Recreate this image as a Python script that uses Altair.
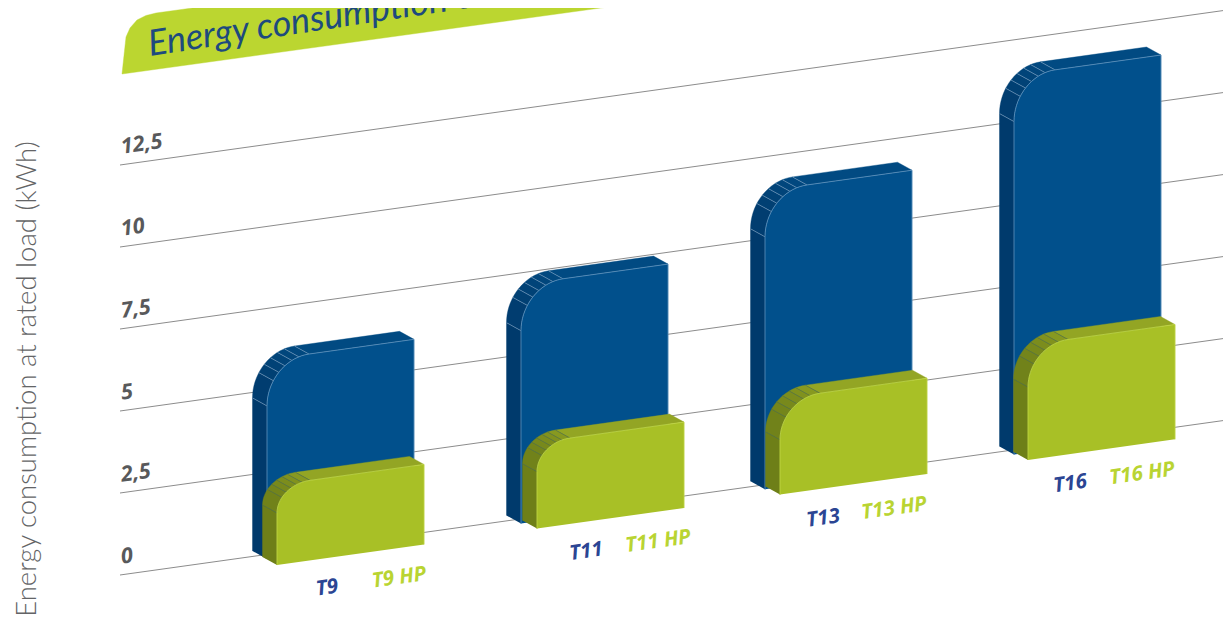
import math
import altair as alt
import pandas as pd

# ---- chart content -------------------------------------------------------
CATEGORIES = ["T9", "T11", "T13", "T16"]
STANDARD_KWH = [6.07, 7.28, 9.1, 11.55]
HP_KWH = [2.44, 2.62, 2.92, 3.5]
GRID_VALUES = [0, 2.5, 5, 7.5, 10, 12.5]
GRID_LABELS = ["0", "2,5", "5", "7,5", "10", "12,5"]
Y_TITLE = "Energy consumption at rated load (kWh)"
BANNER_TITLE = "Energy consumption comparison"

# ---- layout (pixels of the 1231x617 frame) -------------------------------
W, H = 1223, 617   # the page leaves 1215 px of width for the drawing
PX = 32.8          # pixels per kWh
SLOPE = 0.14       # shear of the floor
X0, Y0 = 120, 575  # left end of the zero line
BLUE_X = [267, 521, 765, 1014]
GREEN_X = [277, 537, 780, 1028]
BLUE_R = [(42, 46), (42, 46), (42, 46), (41, 46)]
GREEN_R = [(33, 28), (33, 29), (40, 41), (40, 42)]
FACE_W = 147
DEPTH = (14.5, 8)
BLUE_DROP, GREEN_DROP = 4.6, 12
LABEL_DX = [(51, 123), (50, 122), (44, 115), (43, 115)]


def chart_y(ref_y):
    """Frame pixel height to sheared kWh-axis units."""
    return (Y0 - ref_y) / PX


def floor(x):
    return Y0 - SLOPE * (x - X0)


def pt(x, ref_y):
    return {"x": x, "y": chart_y(ref_y)}


def face_point(x, h, drop, back=False):
    """Point x on the front plane, h px above the base of the bar."""
    y = floor(x) + drop - h
    if back:
        return x - DEPTH[0], y - DEPTH[1]
    return x, y


def curve(x0, rx, ry, hgt, drop, angles, back=False):
    out = []
    for a in angles:
        r = math.radians(a)
        x = x0 + rx * (1 - math.cos(r))
        h = hgt - ry * (1 - math.sin(r))
        out.append(face_point(x, h, drop, back))
    return out


ARC = list(range(0, 91, 5))
RIBS = [0, 32, 44, 55, 66, 76, 90]


def poly(points, name):
    return [dict(pt(x, y), poly=name, i=i) for i, (x, y) in enumerate(points)]


def bar_parts(key, x0, kwh, r, drop):
    rx, ry = r
    hgt = kwh * PX
    x1 = x0 + FACE_W
    P = lambda x, h, b=False: face_point(x, h, drop, b)
    front_arc = curve(x0, rx, ry, hgt, drop, ARC)
    back_arc = curve(x0, rx, ry, hgt, drop, ARC, True)
    parts = {}
    parts["side"] = poly([P(x0, 0), P(x0, hgt - ry), P(x0, hgt - ry, True), P(x0, 0, True)], key + "s")
    parts["top"] = poly([front_arc[-1], P(x1, hgt), P(x1, hgt, True), back_arc[-1]], key + "t")
    strips = []
    for k in range(len(RIBS) - 1):
        sub = [RIBS[k]] + [a for a in ARC if RIBS[k] < a < RIBS[k + 1]] + [RIBS[k + 1]]
        ring = curve(x0, rx, ry, hgt, drop, sub) + curve(x0, rx, ry, hgt, drop, sub[::-1], True)
        strips.append(poly(ring, f"{key}c{k}"))
    parts["strips"] = strips
    parts["front"] = poly([P(x0, 0)] + front_arc + [P(x1, hgt), P(x1, 0)], key + "f")
    parts["seam"] = poly([P(x0, 0)] + front_arc + [P(x1, hgt), P(x1, 0)], key + "e")
    ribs = []
    for k, a in enumerate(RIBS):
        ribs += poly(curve(x0, rx, ry, hgt, drop, [a]) + curve(x0, rx, ry, hgt, drop, [a], True), f"{key}r{k}")
    parts["ribs"] = ribs
    return parts


X_SCALE = alt.Scale(domain=[8, W], range=[0, W - 8], nice=False, zero=False)
Y_SCALE = alt.Scale(domain=[chart_y(H), chart_y(8)], range=[H - 8, 0], nice=False, zero=False)
X = alt.X("x:Q", scale=X_SCALE, axis=None)
Y = alt.Y("y:Q", scale=Y_SCALE, axis=None)


def filled(rows, color):
    return alt.Chart(pd.DataFrame(rows)).mark_line(
        fill=color, stroke=color, strokeWidth=0.4, interpolate="linear"
    ).encode(x=X, y=Y, detail="poly:N", order=alt.Order("i:Q"))


def stroked(rows, color, width):
    return alt.Chart(pd.DataFrame(rows)).mark_line(
        stroke=color, strokeWidth=width, interpolate="linear"
    ).encode(x=X, y=Y, detail="poly:N", order=alt.Order("i:Q"))


def series_layers(xs, values, radii, drop, cols, keyp):
    parts = [bar_parts(f"{keyp}{n}", x, v, r, drop) for n, x, v, r in zip(CATEGORIES, xs, values, radii)]
    layers = [filled(sum((p["side"] for p in parts), []), cols["side"]),
              filled(sum((p["top"] for p in parts), []), cols["top"])]
    for k in range(len(RIBS) - 1):
        rows = sum((p["strips"][k] for p in parts), [])
        layers.append(filled(rows, cols["arc"][k]))
    layers.append(stroked(sum((p["ribs"] for p in parts), []), cols["rib"], 0.6))
    layers.append(filled(sum((p["front"] for p in parts), []), cols["front"]))
    layers.append(stroked(sum((p["seam"] for p in parts), []), cols["seam"], 0.7))
    return layers


BLUE = dict(side="#003A6C", top="#014A82", front="#01508C", rib="#7FA3C4", seam="#6F9CC4",
            arc=["#013D70", "#014073", "#014276", "#014479", "#01467C", "#01487F"])
GREEN = dict(side="#6E7F18", top="#93A524", front="#A8C026", rib="#55704A", seam="#C4D84A",
             arc=["#71821A", "#74851B", "#78891C", "#7C8D1D", "#81921E", "#879920"])

# grid
grid_rows = []
for v in GRID_VALUES:
    for gx in (X0, W):
        grid_rows.append(dict(poly=str(v), x=gx, y=v + SLOPE * (gx - X0) / PX, i=gx))
grid = alt.Chart(pd.DataFrame(grid_rows)).mark_line(stroke="#8C8C8C", strokeWidth=1).encode(
    x=X, y=Y, detail="poly:N", order=alt.Order("i:Q"))

# tick labels
tick_x = 122
tick_rows = [dict(x=tick_x, y=v + SLOPE * (tick_x - X0) / PX + 11 / PX, t=t)
             for v, t in zip(GRID_VALUES, GRID_LABELS)]
ticks = alt.Chart(pd.DataFrame(tick_rows)).mark_text(
    align="left", baseline="alphabetic", angle=352, font="Open Sans", fontSize=21.5,
    fontStyle="italic", fontWeight="bold", color="#58595B"
).encode(x=X, y=Y, text="t:N")

# category labels
label_rows_a, label_rows_b = [], []
for n, gx, (da, db) in zip(CATEGORIES, GREEN_X, LABEL_DX):
    for rows, d, t in ((label_rows_a, da, n), (label_rows_b, db, n + " HP")):
        lx = gx + d
        rows.append(dict(x=lx, y=chart_y(floor(lx) + GREEN_DROP + 36), t=t))
lab_style = dict(align="center", baseline="alphabetic", angle=352, font="Open Sans", fontSize=20.5,
                 fontStyle="italic", fontWeight="bold")
labels_a = alt.Chart(pd.DataFrame(label_rows_a)).mark_text(color="#2B4593", **lab_style).encode(x=X, y=Y, text="t:N")
labels_b = alt.Chart(pd.DataFrame(label_rows_b)).mark_text(color="#B9D432", **lab_style).encode(x=X, y=Y, text="t:N")

# banner
banner_pts = [(122, 74), (123.5, 60), (126, 37), (130, 28), (137, 20), (146, 15.5), (156, 13),
              (760, -70), (760, -14), (122, 74)]
banner = filled(poly(banner_pts, "banner"), "#BBD630")
banner_text = alt.Chart(pd.DataFrame([dict(pt(150, 56), t=BANNER_TITLE)])).mark_text(
    align="left", baseline="alphabetic", angle=351.4, font="Lato", fontSize=36, fontStyle="italic",
    color="#1D4A7E").encode(x=X, y=Y, text="t:N")

y_title = alt.Chart(pd.DataFrame([dict(pt(36, 379), t=Y_TITLE)])).mark_text(
    align="center", baseline="alphabetic", angle=270, font="Lato", fontSize=27.5, fontWeight=300,
    color="#636466").encode(x=X, y=Y, text="t:N")

layers = [grid, banner, banner_text, ticks, y_title]
layers += series_layers(BLUE_X, STANDARD_KWH, BLUE_R, BLUE_DROP, BLUE, "b")
layers += series_layers(GREEN_X, HP_KWH, GREEN_R, GREEN_DROP, GREEN, "g")
layers += [labels_a, labels_b]

chart = alt.layer(*layers).properties(
    width=W - 8, height=H - 8, padding=0, autosize=alt.AutoSizeParams(type="none"), background="white"
).configure_view(stroke=None)

chart.save("out.html", embed_options={"renderer": "svg", "actions": False})
